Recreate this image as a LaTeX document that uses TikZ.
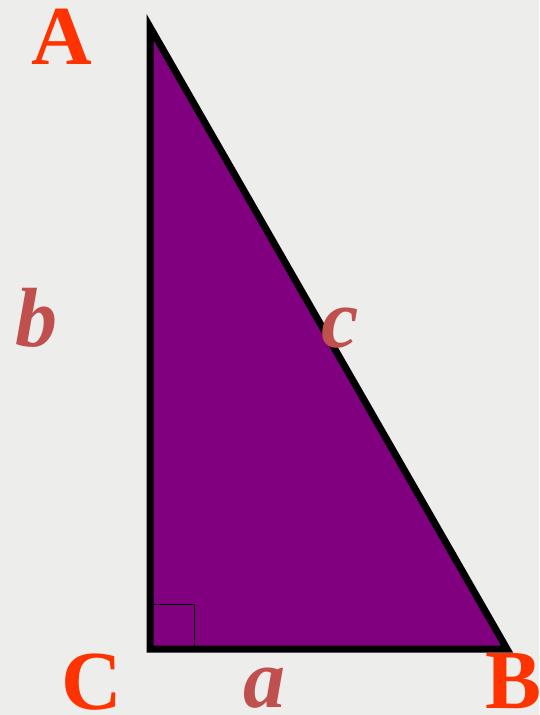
\documentclass[tikz,border=0pt]{standalone}
\usepackage{fontspec}
\setmainfont{Liberation Serif}
\usepackage{tikz}
\usetikzlibrary{calc}
\definecolor{paper}{RGB}{237,237,235}
\definecolor{plum}{HTML}{800080}
\definecolor{vertexred}{HTML}{FF3300}
\definecolor{siderose}{HTML}{C0504D}

\begin{document}
\begin{tikzpicture}[
  x=1pt, y=-1pt,
  vertex/.style={text=vertexred, font=\fontsize{84}{84}\selectfont\bfseries, inner sep=0pt, anchor=base},
  side/.style={text=siderose, font=\fontsize{84}{84}\selectfont\bfseries\itshape, inner sep=0pt, anchor=base}
]
\fill[paper] (0,0) rectangle (539,715);
\useasboundingbox (0,0) rectangle (539,715);

\coordinate (A) at (150,27);
\coordinate (C) at (150,649);
\coordinate (B) at (507,649);

\filldraw[fill=plum, draw=black, line width=7pt, miter limit=20] (A) -- (C) -- (B) -- cycle;
\draw[line width=1pt] ($(C)+(0,-45)$) -| ($(C)+(44,0)$);

\node[vertex] (labA) at (62,64) {A};
\node[vertex] (labC) at (92,709) {C};
\node[vertex] (labB) at (514,708) {B};

\node[side] (labb) at (36,346) {b};
\node[side] (labc) at (340,347) {c};
\node[side] (laba) at (264,707) {a};
\end{tikzpicture}
\end{document}
